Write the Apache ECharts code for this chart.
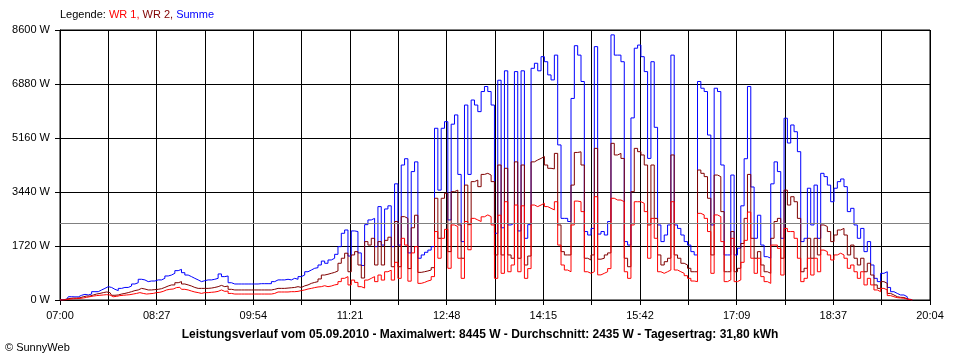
<!DOCTYPE html>
<html><head><meta charset="utf-8">
<script src="https://cdn.jsdelivr.net/npm/echarts@6/dist/echarts.min.js"></script>
<style>html,body{margin:0;padding:0;background:#fff}#c{width:960px;height:360px}</style>
</head><body><div id="c"></div>
<script>
// minutes after 07:00, one sample every 3 minutes
const sampleStepMin = 3;
const axisSpanMin = 784; // 07:00 .. 20:04
const xTickLabels = ['07:00','08:27','09:54','11:21','12:48','14:15','15:42','17:09','18:37','20:04'];
const averageW = 2435;

// WR 1 (red)
const wr1 = [
0,0,10,30,40,45,50,65,85,105,
125,140,150,160,170,160,105,115,140,150,
160,170,190,210,235,210,190,200,210,235,
245,275,320,340,350,395,405,340,320,285,
255,235,210,235,235,245,255,275,320,275,
285,210,190,190,190,190,190,190,190,190,
190,190,190,190,210,255,255,255,255,265,
265,275,300,320,350,370,395,415,425,455,
425,445,480,500,585,690,745,480,635,560,
425,380,635,690,745,585,795,635,900,950,
635,1200,690,1965,1750,600,1500,1700,530,560,
605,635,745,2180,1330,1965,2250,1010,2390,2340,
1330,690,2500,1600,2600,2550,2500,2650,2710,2655,
2390,690,2700,850,3130,900,1115,3025,900,3000,
690,1000,3025,2975,3025,3080,2975,2920,2870,3130,
1750,1115,955,900,2390,3150,3130,2815,900,850,
900,3290,800,850,900,1000,3240,3185,3185,3130,
900,690,2390,3130,3130,3080,2815,1330,2600,1965,
900,850,900,955,3130,955,900,850,775,690,
605,585,2760,2710,2600,2180,850,2710,2655,1860,
585,640,1965,585,640,1200,1900,2800,1330,850,
1330,745,585,530,1750,1750,1645,795,2280,2180,
2180,1965,1330,585,690,1330,795,1330,900,1590,
1540,1435,1275,1435,1490,1435,1330,1010,1115,900,
690,900,480,690,480,320,265,370,320,140,
105,75,65,55,30,10,0
];

// WR 2 (dark red)
const wr2 = [
0,0,30,50,60,60,70,105,125,125,
160,190,210,235,255,235,150,160,190,210,
235,265,300,320,370,350,320,320,330,340,
360,400,445,480,480,550,585,510,480,445,
400,370,370,370,370,380,400,425,465,425,
445,340,320,320,320,320,320,320,320,320,
320,320,320,320,340,370,370,370,380,390,
400,425,400,450,480,530,560,585,670,795,
820,850,880,925,1170,1330,1490,900,1435,1540,
1115,700,1860,1750,1965,1115,1860,1115,1900,2000,
1060,2500,1060,2655,2600,1000,2300,2700,880,900,
925,955,1030,3240,1965,3240,3400,1540,3450,3500,
2390,1330,3660,2400,3770,3820,3610,4000,4035,3980,
3770,1435,4300,1435,4195,1435,1330,4400,1330,4300,
1115,1400,4400,4460,4510,4570,4300,4195,4175,4670,
2390,1540,1435,1435,3660,4700,4720,4300,1330,1275,
1435,4830,1300,1330,1435,1500,4990,4620,4670,4510,
1330,1060,3450,4830,4725,4620,4300,2390,4300,2600,
1435,1115,1220,1330,4620,1435,1330,1170,1115,1010,
900,900,4140,4035,3930,3240,1435,3980,3930,2815,
900,900,2180,900,1010,1800,2600,4000,1965,1330,
1540,1115,900,850,1965,2500,2600,1330,3500,3025,
3290,3130,2600,900,1010,1965,1330,1965,1435,2390,
2340,2180,1860,2070,2230,2280,2070,1435,1750,1330,
1115,1330,900,1170,795,480,370,585,530,210,
160,105,85,80,40,10,0
];

// Summe (blue)
const summe = [
0,10,20,105,100,100,150,180,160,190,
265,265,320,370,425,400,340,300,370,400,
400,445,510,550,660,640,585,605,605,640,
640,690,765,795,850,935,975,870,795,745,
690,640,585,615,640,640,660,690,830,745,
765,550,510,510,510,510,510,510,510,510,
520,520,520,520,585,640,640,640,660,640,
690,660,745,795,900,955,1010,1030,1115,1240,
1170,1275,1330,1455,1700,2125,2230,1400,2200,2180,
1500,1100,2400,2550,2600,1700,2975,1750,2900,3000,
1700,3700,1750,4300,4500,1500,4090,4400,1330,1435,
1520,1590,1700,5470,3500,5470,5680,2550,5600,5895,
4000,1860,6210,4000,6370,6210,6000,6640,6800,6640,
6210,2125,7000,2300,7300,2390,2450,7275,2200,7300,
1965,2400,7380,7540,7300,7750,7590,7170,7010,7800,
4940,2600,2600,2500,6420,8100,7800,6960,2180,2070,
2280,8070,2100,2180,2070,2500,8445,7800,7800,7590,
1860,1750,5800,8020,8120,7750,7275,4510,7590,5500,
2390,1860,2070,2390,7800,2390,2280,2070,1860,1750,
1540,1435,6960,6745,6640,5255,2390,6745,6640,4300,
1435,1435,3980,1435,1650,3000,4500,6800,3600,1965,
2700,1750,1380,1330,3700,4400,4090,1965,5790,5000,
5575,5360,4725,1860,1965,3560,2390,3660,1965,4035,
3930,3660,3130,3560,3770,3855,3610,2815,2920,2390,
1965,2280,1540,1860,1115,690,585,850,900,400,
265,210,160,160,105,20,0
];

const legendText = '{k|Legende: }{a|WR 1, }{b|WR 2, }{c|Summe}';
const footerText = 'Leistungsverlauf vom 05.09.2010 - Maximalwert: 8445 W - Durchschnitt: 2435 W - Tagesertrag: 31,80 kWh';
const copyText = '\u00A9 SunnyWeb';

const FONT = 'Liberation Sans';
const toPairs = arr => arr.map((v, i) => [i * sampleStepMin, v]);

const chart = echarts.init(document.getElementById('c'), null, {renderer: 'canvas'});
chart.setOption({
  animation: false,
  backgroundColor: '#fff',
  title: [
    {text: legendText, left: 60, top: 9, padding: 0,
     textStyle: {fontFamily: FONT, fontSize: 11, fontWeight: 'normal', rich: {
       k: {color: '#000', fontFamily: FONT, fontSize: 11},
       a: {color: '#ff0000', fontFamily: FONT, fontSize: 11},
       b: {color: '#800000', fontFamily: FONT, fontSize: 11},
       c: {color: '#0000ff', fontFamily: FONT, fontSize: 11}
     }}},
    {text: footerText, left: 'center', top: 329, padding: 0,
     textStyle: {fontFamily: FONT, fontSize: 12, fontWeight: 'bold', color: '#000'}},
    {text: copyText, left: 5, top: 342, padding: 0,
     textStyle: {fontFamily: FONT, fontSize: 11, fontWeight: 'normal', color: '#000'}}
  ],
  grid: {left: 60, right: 30, top: 30, bottom: 60, show: true, borderColor: '#000', borderWidth: 1, backgroundColor: 'transparent'},
  xAxis: [
    {type: 'value', min: 0, max: axisSpanMin, show: false},
    {type: 'value', min: 0, max: 18, interval: 1, position: 'bottom',
     axisLine: {show: true, onZero: false, lineStyle: {color: '#000', width: 1}},
     axisTick: {show: true, length: 5, lineStyle: {color: '#000', width: 1}},
     splitLine: {show: true, lineStyle: {color: '#000', width: 1}},
     axisLabel: {color: '#000', fontFamily: FONT, fontSize: 11, margin: 10,
       showMinLabel: true, showMaxLabel: true,
       formatter: v => (Math.round(v) % 2 === 0 ? xTickLabels[Math.round(v) / 2] : '')}}
  ],
  yAxis: {type: 'value', min: 0, max: 8600, interval: 1720,
    axisLine: {show: true, lineStyle: {color: '#000', width: 1}},
    axisTick: {show: true, length: 5, lineStyle: {color: '#000', width: 1}},
    splitLine: {show: true, lineStyle: {color: '#000', width: 1}},
    axisLabel: {color: '#000', fontFamily: FONT, fontSize: 11, margin: 10, formatter: v => String(v) + ' W'}},
  series: [
    {name: 'Summe', type: 'line', xAxisIndex: 0, data: toPairs(summe), step: 'middle',
     symbol: 'none', lineStyle: {color: '#0000ff', width: 1}, itemStyle: {color: '#0000ff'},
     markLine: {silent: true, symbol: ['none', 'none'], label: {show: false},
       lineStyle: {color: '#808080', width: 1, type: 'solid'}, data: [{yAxis: averageW}]}},
    {name: 'WR 2', type: 'line', xAxisIndex: 0, data: toPairs(wr2), step: 'middle',
     symbol: 'none', lineStyle: {color: '#800000', width: 1}, itemStyle: {color: '#800000'}},
    {name: 'WR 1', type: 'line', xAxisIndex: 0, data: toPairs(wr1), step: 'middle',
     symbol: 'none', lineStyle: {color: '#ff0000', width: 1}, itemStyle: {color: '#ff0000'}}
  ]
});
</script>
</body></html>
